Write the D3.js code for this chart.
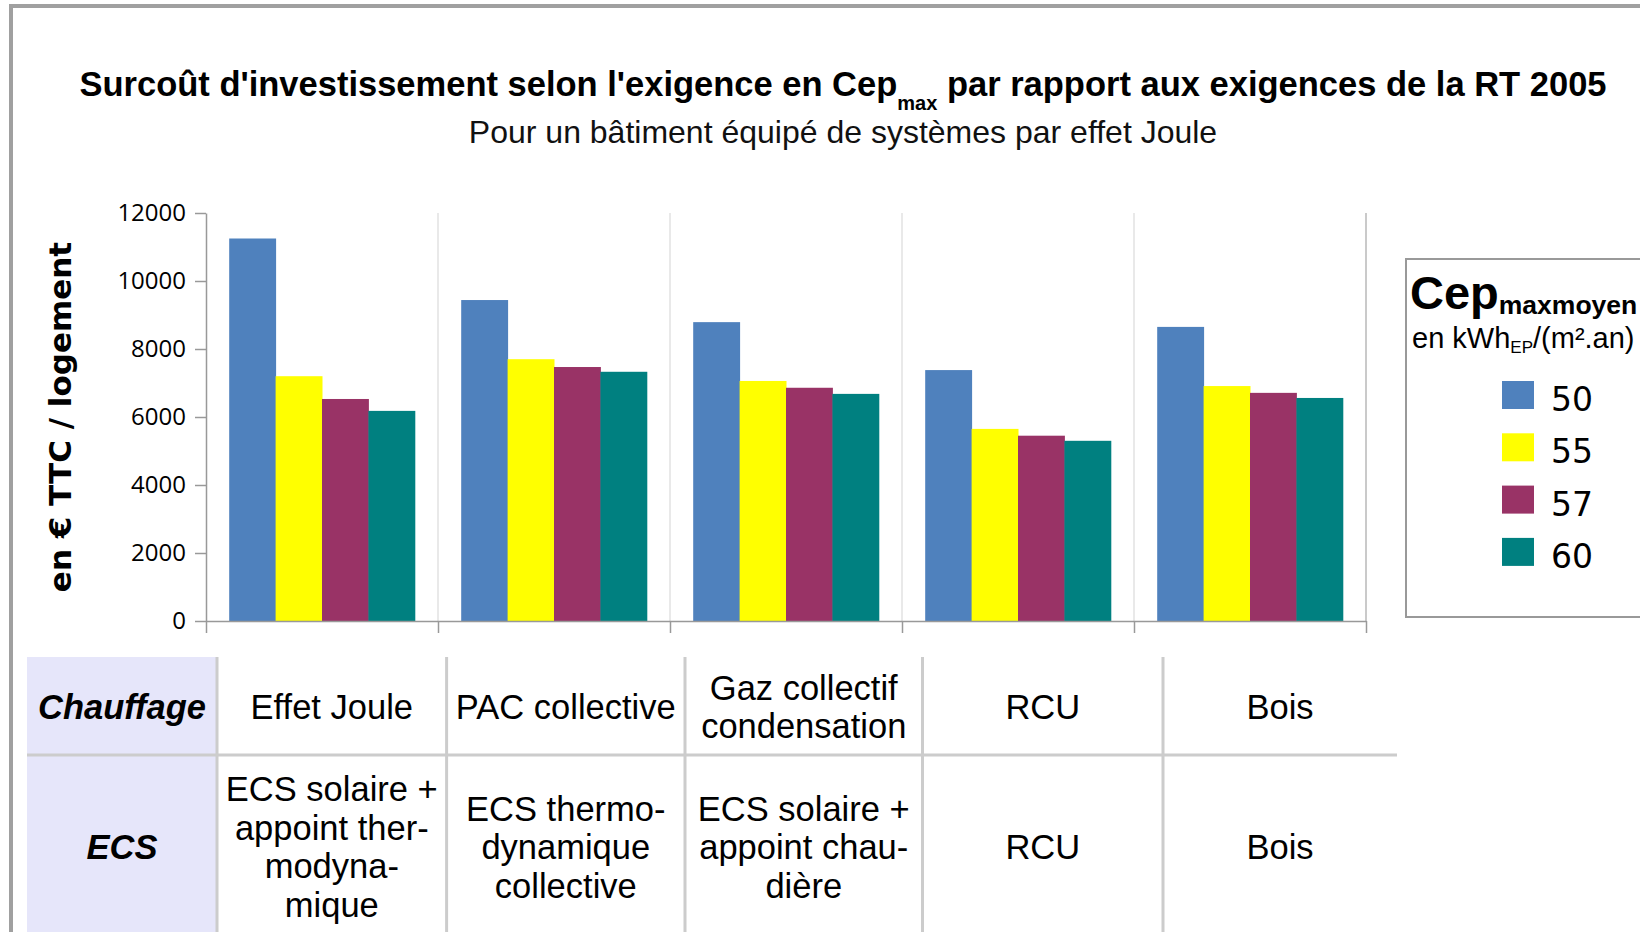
<!DOCTYPE html>
<html lang="fr">
<head>
<meta charset="UTF-8">
<title>Surcoût d'investissement selon Cepmax</title>
<script src="https://d3js.org/d3.v7.min.js"></script>
<style>
  body { margin: 0; background: #fff; }
  svg { display: block; }
</style>
</head>
<body>
<svg width="1640" height="932"></svg>
<script>
// données
var categories = ["Effet Joule", "PAC collective", "Gaz collectif condensation", "RCU", "Bois"];
var seriesNames = ["50", "55", "57", "60"];
var values50 = [11250, 9440, 8790, 7380, 8650];
var values55 = [7200, 7700, 7060, 5650, 6910];
var values57 = [6530, 7470, 6860, 5450, 6710];
var values60 = [6180, 7330, 6680, 5300, 6560];
var colors = ["#4f81bd", "#ffff00", "#993366", "#008080"];
var yTicks = [0, 2000, 4000, 6000, 8000, 10000, 12000];

// tableau sous le graphique
var rowHeaders = ["Chauffage", "ECS"];
var chauffageRow = [["Effet Joule"], ["PAC collective"], ["Gaz collectif", "condensation"], ["RCU"], ["Bois"]];
var ecsRow = [["ECS solaire +", "appoint ther-", "modyna-", "mique"], ["ECS thermo-", "dynamique", "collective"],
              ["ECS solaire +", "appoint chau-", "dière"], ["RCU"], ["Bois"]];

var series = [values50, values55, values57, values60];

var svg = d3.select("svg");

// cadre gris
svg.append("rect").attr("x", 9).attr("y", 4).attr("width", 1640).attr("height", 4).attr("fill", "#a0a0a0");
svg.append("rect").attr("x", 9).attr("y", 4).attr("width", 4).attr("height", 940).attr("fill", "#a0a0a0");

// titres
var title = svg.append("text")
    .attr("x", 843).attr("y", 96)
    .attr("text-anchor", "middle")
    .style("font-family", "'Liberation Sans', Arial, sans-serif")
    .style("font-weight", "bold")
    .style("font-size", "34.5px")
    .attr("fill", "#000");
title.append("tspan").text("Surcoût d'investissement selon l'exigence en Cep");
title.append("tspan").attr("dy", 14).style("font-size", "20px").text("max");
title.append("tspan").attr("dy", -14).text(" par rapport aux exigences de la RT 2005");

svg.append("text")
    .attr("x", 843).attr("y", 143)
    .attr("text-anchor", "middle")
    .style("font-family", "'Liberation Sans', Arial, sans-serif")
    .style("font-size", "32px")
    .attr("fill", "#111")
    .text("Pour un bâtiment équipé de systèmes par effet Joule");

// échelles
var plotLeft = 206, plotRight = 1366, plotTop = 213, plotBottom = 621;
var x0 = d3.scaleBand().domain(categories).range([plotLeft, plotRight]).padding(0);
var bw = x0.bandwidth();
var x1 = d3.scaleBand().domain(seriesNames).range([bw * 0.1, bw * 0.9]).padding(0);
var y = d3.scaleLinear().domain([0, 12000]).range([plotBottom, plotTop]);
var xb = d3.scaleLinear().domain([0, categories.length]).range([plotLeft, plotRight]);

// lignes verticales entre catégories
svg.append("g").selectAll("line")
    .data(d3.range(1, categories.length + 1))
    .enter().append("line")
    .attr("x1", function(d) { return xb(d); })
    .attr("x2", function(d) { return xb(d); })
    .attr("y1", y(12000)).attr("y2", y(0))
    .attr("stroke", function(d) { return d === categories.length ? "#b8b8b8" : "#e2e2e2"; })
    .attr("stroke-width", 1.5);

// barres
var groups = svg.append("g").selectAll("g")
    .data(categories)
    .enter().append("g")
    .attr("transform", function(d) { return "translate(" + x0(d) + ",0)"; });

groups.selectAll("rect")
    .data(function(d, i) { return series.map(function(s, j) { return { key: seriesNames[j], value: s[i], c: colors[j] }; }); })
    .enter().append("rect")
    .attr("x", function(d) { return x1(d.key); })
    .attr("y", function(d) { return y(d.value); })
    .attr("width", x1.bandwidth() + 0.5)
    .attr("height", function(d) { return y(0) - y(d.value); })
    .attr("fill", function(d) { return d.c; });

// axe Y
var yAxis = svg.append("g")
    .attr("transform", "translate(" + plotLeft + ",0)")
    .call(d3.axisLeft(y).tickValues(yTicks).tickFormat(d3.format("d")).tickSize(11).tickPadding(9).tickSizeOuter(0));
yAxis.select(".domain").attr("stroke", "#999").attr("stroke-width", 1.5);
yAxis.selectAll(".tick line").attr("stroke", "#999").attr("stroke-width", 1.5);
yAxis.selectAll(".tick text")
    .style("font-family", "'Open Sans', sans-serif")
    .style("font-size", "24px")
    .attr("fill", "#000");

// axe X (graduations seulement)
var xAxis = svg.append("g")
    .attr("transform", "translate(0," + plotBottom + ")")
    .call(d3.axisBottom(xb).tickValues(d3.range(0, categories.length + 1)).tickFormat("").tickSize(12).tickSizeOuter(0));
xAxis.select(".domain").attr("stroke", "#999").attr("stroke-width", 1.5);
xAxis.selectAll(".tick line").attr("stroke", "#999").attr("stroke-width", 1.5);

// titre axe Y
svg.append("text")
    .attr("transform", "translate(60,417) rotate(-90)")
    .attr("text-anchor", "middle")
    .attr("dominant-baseline", "central")
    .style("font-family", "'DejaVu Sans', sans-serif")
    .style("font-weight", "bold")
    .style("font-size", "31px")
    .attr("fill", "#000")
    .text("en € TTC / logement");

// légende
var lg = svg.append("g");
lg.append("rect").attr("x", 1406).attr("y", 259).attr("width", 300).attr("height", 358)
    .attr("fill", "#fff").attr("stroke", "#999").attr("stroke-width", 2);
var lt = lg.append("text").attr("x", 1410).attr("y", 309)
    .style("font-family", "'Liberation Sans', Arial, sans-serif").style("font-weight", "bold").attr("fill", "#000");
lt.append("tspan").style("font-size", "47px").text("Cep");
lt.append("tspan").attr("dy", 5).style("font-size", "26.5px").text("maxmoyen");
var lu = lg.append("text").attr("x", 1412).attr("y", 348)
    .style("font-family", "'Liberation Sans', Arial, sans-serif").style("font-size", "29px").attr("fill", "#000");
lu.append("tspan").text("en kWh");
lu.append("tspan").attr("dy", 5).style("font-size", "17px").text("EP");
lu.append("tspan").attr("dy", -5).text("/(m².an)");

var items = lg.selectAll(".item").data(seriesNames).enter().append("g")
    .attr("class", "item")
    .attr("transform", function(d, i) { return "translate(1502," + (381 + i * 52.3) + ")"; });
items.append("rect").attr("width", 32).attr("height", 28)
    .attr("fill", function(d, i) { return colors[i]; });
items.append("text").attr("x", 49).attr("y", 30)
    .style("font-family", "'DejaVu Sans', sans-serif").style("font-size", "33px")
    .attr("fill", "#000")
    .text(function(d) { return d; });

// tableau
var colX = [27, 217, 446.6, 685, 922.5, 1163, 1397];
var rowY = [657, 755, 940];
var rowCenters = [707, 847];
var lineH = 38.5;

svg.append("rect").attr("x", colX[0]).attr("y", rowY[0]).attr("width", colX[1] - colX[0]).attr("height", 932 - rowY[0])
    .attr("fill", "#e6e6fa");

svg.append("g").selectAll("line").data(colX.slice(1, 6)).enter().append("line")
    .attr("x1", function(d) { return d; }).attr("x2", function(d) { return d; })
    .attr("y1", rowY[0]).attr("y2", 932)
    .attr("stroke", "#cccccc").attr("stroke-width", 3);
svg.append("line").attr("x1", colX[0]).attr("x2", colX[6]).attr("y1", rowY[1]).attr("y2", rowY[1])
    .attr("stroke", "#cccccc").attr("stroke-width", 3);

svg.append("g").selectAll("text").data(rowHeaders).enter().append("text")
    .attr("x", (colX[0] + colX[1]) / 2)
    .attr("y", function(d, i) { return rowCenters[i]; })
    .attr("dy", "0.35em")
    .attr("text-anchor", "middle")
    .style("font-family", "'Liberation Sans', Arial, sans-serif")
    .style("font-weight", "bold").style("font-style", "italic").style("font-size", "34.5px")
    .attr("fill", "#000")
    .text(function(d) { return d; });

[chauffageRow, ecsRow].forEach(function(row, r) {
    row.forEach(function(lines, c) {
        var cx = (colX[c + 1] + colX[c + 2]) / 2;
        var t = svg.append("text")
            .attr("text-anchor", "middle")
            .style("font-family", "'Liberation Sans', Arial, sans-serif")
            .style("font-size", "34.5px")
            .attr("fill", "#000");
        lines.forEach(function(l, k) {
            t.append("tspan").attr("x", cx)
                .attr("y", rowCenters[r] + (k - (lines.length - 1) / 2) * lineH)
                .attr("dy", "0.35em")
                .text(l);
        });
    });
});
</script>
</body>
</html>
